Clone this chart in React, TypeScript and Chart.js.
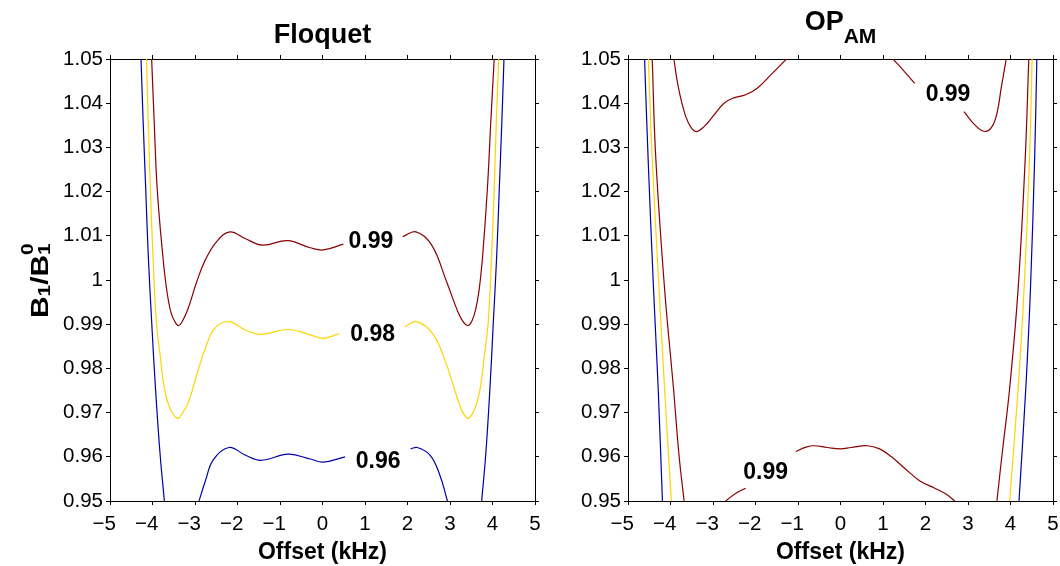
import React, { useEffect, useRef } from "react";
import { Chart, registerables } from "chart.js";

Chart.register(...registerables);

const FONT = "'Liberation Sans', Arial, Helvetica, sans-serif";

// ---------- axes ----------
const xTickValues = [-5, -4, -3, -2, -1, 0, 1, 2, 3, 4, 5];
const xTickLabels = ["−5", "−4", "−3", "−2", "−1", "0", "1", "2", "3", "4", "5"];
const yTickValues = [0.95, 0.96, 0.97, 0.98, 0.99, 1.0, 1.01, 1.02, 1.03, 1.04, 1.05];
const yTickLabels = ["0.95", "0.96", "0.97", "0.98", "0.99", "1", "1.01", "1.02", "1.03", "1.04", "1.05"];
const xAxisTitle = "Offset (kHz)";

// ---------- Floquet panel: contour pieces [offset kHz, B1/B1^0] ----------
const floquetRed099A = [
  [-4.02, 1.05], [-3.96, 1.0358], [-3.89, 1.0207], [-3.76, 1.0057], [-3.67, 0.9981],
  [-3.57, 0.9928], [-3.47, 0.9905], [-3.39, 0.9897], [-3.30, 0.9906], [-3.16, 0.9936],
  [-2.96, 0.9996], [-2.76, 1.0045], [-2.49, 1.0087], [-2.18, 1.0109], [-1.82, 1.0094],
  [-1.42, 1.0079], [-0.82, 1.0089], [-0.29, 1.0073], [0.02, 1.0068], [0.49, 1.0081],
];
const floquetRed099B = [
  [1.89, 1.0098], [2.2, 1.0109], [2.57, 1.0079], [2.92, 0.9996], [3.2, 0.9925],
  [3.33, 0.9903], [3.42, 0.9897], [3.51, 0.9906], [3.61, 0.9936], [3.69, 0.9981],
  [3.77, 1.0057], [3.88, 1.0207], [3.96, 1.0358], [4.04, 1.05],
];
const floquetYellow098A = [
  [-4.14, 1.05], [-4.1, 1.0358], [-4.05, 1.0207], [-3.99, 1.0057], [-3.91, 0.9906],
  [-3.82, 0.983], [-3.72, 0.9755], [-3.59, 0.971], [-3.41, 0.9687], [-3.3, 0.9698],
  [-3.16, 0.9722], [-2.96, 0.9785], [-2.76, 0.9845], [-2.53, 0.9891], [-2.2, 0.9906],
  [-1.82, 0.9887], [-1.45, 0.9877], [-0.8, 0.9888], [-0.29, 0.9876], [0.02, 0.9868],
  [0.395, 0.9879],
];
const floquetYellow098B = [
  [1.94, 0.9894], [2.22, 0.9906], [2.61, 0.9876], [2.92, 0.9808], [3.2, 0.9725],
  [3.32, 0.9697], [3.43, 0.9687], [3.58, 0.9708], [3.71, 0.9755], [3.81, 0.983],
  [3.9, 0.9906], [3.98, 1.0057], [4.04, 1.0207], [4.09, 1.0358], [4.145, 1.05],
];
const floquetBlue096Outer1 = [
  [-4.27, 1.05], [-4.22, 1.0358], [-4.16, 1.0207], [-4.1, 1.0057], [-4.02, 0.9906],
  [-3.93, 0.9755], [-3.82, 0.9604], [-3.72, 0.95],
];
const floquetBlue096Outer2 = [
  [3.745, 0.95], [3.84, 0.9604], [3.94, 0.9755], [4.02, 0.9906], [4.1, 1.0057],
  [4.16, 1.0207], [4.22, 1.0358], [4.27, 1.05],
];
const floquetBlue096A = [
  [-2.906, 0.95], [-2.76, 0.9544], [-2.57, 0.9593], [-2.2, 0.9621], [-1.82, 0.9604],
  [-1.45, 0.9592], [-0.8, 0.9606], [-0.29, 0.9595], [0.02, 0.9588], [0.53, 0.96],
];
const floquetBlue096B = [
  [2.075, 0.9618], [2.23, 0.9621], [2.53, 0.9604], [2.76, 0.9559], [2.94, 0.95],
];
const floquetLabelText = ["0.99", "0.98", "0.96"];
const floquetLabelX = [1.14, 1.18, 1.31];
const floquetLabelY = [1.0087, 0.9877, 0.9588];

// ---------- OP_AM panel ----------
const opBlueLeft = [[-4.61, 1.05], [-4.53, 1.0283], [-4.4, 0.9981], [-4.29, 0.9755], [-4.19, 0.95]];
const opYellowLeft = [[-4.52, 1.05], [-4.435, 1.0283], [-4.27, 0.9981], [-4.14, 0.9755], [-3.98, 0.95]];
const opRedLeft = [[-4.43, 1.05], [-4.35, 1.0283], [-4.14, 0.9981], [-3.93, 0.9755], [-3.8, 0.9604], [-3.68, 0.95]];
const opRedRight = [[3.68, 0.95], [3.8, 0.9604], [3.98, 0.9755], [4.18, 0.9981], [4.35, 1.0283], [4.43, 1.05]];
const opYellowRight = [[3.98, 0.95], [4.18, 0.9755], [4.32, 0.9981], [4.45, 1.0283], [4.51, 1.05]];
const opBlueRight = [[4.2, 0.95], [4.36, 0.9755], [4.47, 0.9981], [4.57, 1.0283], [4.62, 1.05]];
const opRedTopA = [
  [-3.92, 1.05], [-3.84, 1.0449], [-3.72, 1.0396], [-3.59, 1.0358], [-3.41, 1.0336],
  [-3.21, 1.0347], [-2.98, 1.0373], [-2.74, 1.04], [-2.51, 1.0412], [-2.23, 1.0419],
  [-1.96, 1.0434], [-1.64, 1.0464], [-1.27, 1.05],
];
const opRedTopB = [[1.235, 1.05], [1.51, 1.0471], [1.745, 1.0445]];
const opRedTopC = [
  [2.905, 1.0381], [3.16, 1.0351], [3.39, 1.0336], [3.565, 1.0347], [3.69, 1.0381],
  [3.78, 1.0434], [3.9, 1.05],
];
const opRedBottomA = [[-2.7, 0.95], [-2.47, 0.9517], [-2.23, 0.9529]];
const opRedBottomB = [
  [-1.05, 0.9612], [-0.81, 0.9622], [-0.62, 0.9625], [-0.31, 0.9621], [0.0, 0.9618],
  [0.25, 0.9621], [0.63, 0.9625], [0.92, 0.9618], [1.2, 0.96], [1.51, 0.9574],
  [1.86, 0.9546], [2.22, 0.9529], [2.49, 0.9515], [2.69, 0.95],
];
const opLabelText = ["0.99", "0.99"];
const opLabelX = [2.53, -1.76];
const opLabelY = [1.0419, 0.9563];

// ---------- styles ----------
const RED = "#8B0000";
const YELLOW = "#FFD400";
const BLUE = "#0000A8";

type Piece = { pts: number[][]; color: string };
type TitlePart = { text: string; size: number; baseline: number };
type PanelCfg = {
  width: number;
  height: number;
  area: { left: number; right: number; top: number; bottom: number };
  pieces: Piece[];
  labelText: string[];
  labelX: number[];
  labelY: number[];
  title: TitlePart[];
  yLabel: boolean;
};

const floquetCfg: PanelCfg = {
  width: 540,
  height: 566,
  area: { left: 110, right: 535, top: 59, bottom: 501 },
  pieces: [
    { pts: floquetBlue096Outer1, color: BLUE },
    { pts: floquetBlue096Outer2, color: BLUE },
    { pts: floquetBlue096A, color: BLUE },
    { pts: floquetBlue096B, color: BLUE },
    { pts: floquetYellow098A, color: YELLOW },
    { pts: floquetYellow098B, color: YELLOW },
    { pts: floquetRed099A, color: RED },
    { pts: floquetRed099B, color: RED },
  ],
  labelText: floquetLabelText,
  labelX: floquetLabelX,
  labelY: floquetLabelY,
  title: [{ text: "Floquet", size: 27, baseline: 43.3 }],
  yLabel: true,
};

const opCfg: PanelCfg = {
  width: 520,
  height: 566,
  area: { left: 88, right: 513, top: 59, bottom: 501 },
  pieces: [
    { pts: opBlueLeft, color: BLUE },
    { pts: opBlueRight, color: BLUE },
    { pts: opYellowLeft, color: YELLOW },
    { pts: opYellowRight, color: YELLOW },
    { pts: opRedLeft, color: RED },
    { pts: opRedRight, color: RED },
    { pts: opRedTopA, color: RED },
    { pts: opRedTopB, color: RED },
    { pts: opRedTopC, color: RED },
    { pts: opRedBottomA, color: RED },
    { pts: opRedBottomB, color: RED },
  ],
  labelText: opLabelText,
  labelX: opLabelX,
  labelY: opLabelY,
  title: [
    { text: "OP", size: 27, baseline: 29.5 },
    { text: "AM", size: 21, baseline: 42.7 },
  ],
  yLabel: false,
};

function fmtX(i: number) {
  const s = xTickLabels[i] ?? "";
  // keep the digit centred on its tick (minus sign hangs to the left)
  return s.startsWith("−") ? s + "\u00A0\u00A0" : s;
}

function makeChart(canvas: HTMLCanvasElement, cfg: PanelCfg) {
  const { width, height, area } = cfg;
  const tickFont = { family: FONT, size: 20.5 };
  const grid = { display: true, drawOnChartArea: false, drawTicks: true, tickLength: 4, color: "#000", lineWidth: 1 };
  const border = { display: true, color: "#000", width: 1 };
  const setX = (s: any) => { s.ticks = xTickValues.map((v) => ({ value: v })); };
  const setY = (s: any) => { s.ticks = yTickValues.map((v) => ({ value: v })); };
  const noPad = (s: any) => { s.paddingLeft = 0; s.paddingRight = 0; s.paddingTop = 0; s.paddingBottom = 0; };

  const overlay = {
    id: "overlay",
    afterDraw(chart: any) {
      const ctx: CanvasRenderingContext2D = chart.ctx;
      const xs = chart.scales.x;
      const ys = chart.scales.y;
      const ca = chart.chartArea;
      ctx.save();
      ctx.fillStyle = "#000";
      // contour labels
      ctx.font = `bold 23px ${FONT}`;
      ctx.textAlign = "center";
      ctx.textBaseline = "middle";
      cfg.labelText.forEach((t, i) => {
        ctx.fillText(t, xs.getPixelForValue(cfg.labelX[i]), ys.getPixelForValue(cfg.labelY[i]));
      });
      // title
      ctx.textAlign = "left";
      ctx.textBaseline = "alphabetic";
      let total = 0;
      const widths = cfg.title.map((p) => {
        ctx.font = `bold ${p.size}px ${FONT}`;
        const w = ctx.measureText(p.text).width;
        total += w;
        return w;
      });
      let x = (ca.left + ca.right) / 2 - total / 2;
      cfg.title.forEach((p, i) => {
        ctx.font = `bold ${p.size}px ${FONT}`;
        ctx.fillText(p.text, x, p.baseline);
        x += widths[i];
      });
      // y axis label B1/B1^0
      if (cfg.yLabel) {
        const k = 1.3;
        ctx.translate(48, (ca.top + ca.bottom) / 2 + 38);
        ctx.rotate(-Math.PI / 2);
        ctx.scale(k, 1);
        let u = 0;
        const big = `bold 23px ${FONT}`;
        const small = `bold 16px ${FONT}`;
        const put = (t: string, f: string, dv: number, advance: boolean) => {
          ctx.font = f;
          ctx.fillText(t, u, dv);
          const w = ctx.measureText(t).width;
          if (advance) u += w;
          return w;
        };
        put("B", big, 0, true);
        put("1", small, 2, true);
        put("/", big, 0, true);
        put("B", big, 0, true);
        put("0", small, -15, false);
        put("1", small, 2, true);
      }
      ctx.restore();
    },
  };

  return new Chart(canvas, {
    type: "scatter",
    data: {
      datasets: cfg.pieces.map((p) => ({
        data: p.pts.map(([x, y]) => ({ x, y })),
        showLine: true,
        borderColor: p.color,
        backgroundColor: p.color,
        borderWidth: 1.2,
        pointRadius: 0,
        pointHoverRadius: 0,
        fill: false,
        tension: 0.4,
        clip: 0,
        xAxisID: "x",
        yAxisID: "y",
      })),
    },
    options: {
      responsive: false,
      animation: false,
      devicePixelRatio: 1,
      events: [],
      layout: { padding: 0 },
      plugins: { legend: { display: false }, tooltip: { enabled: false }, title: { display: false } },
      scales: {
        x: {
          type: "linear",
          position: "bottom",
          min: -5,
          max: 5,
          afterBuildTicks: setX,
          afterFit: (s: any) => { s.height = height - area.bottom; noPad(s); },
          ticks: {
            autoSkip: false, maxRotation: 0, minRotation: 0, padding: 7, color: "#000", font: tickFont,
            callback: (_v: any, i: number) => fmtX(i),
          },
          grid,
          border,
          title: {
            display: true, text: xAxisTitle, color: "#000",
            font: { family: FONT, size: 23, weight: "bold" }, padding: { top: 0, bottom: 0 },
          },
        },
        x2: {
          type: "linear",
          position: "top",
          min: -5,
          max: 5,
          afterBuildTicks: setX,
          afterFit: (s: any) => { s.height = area.top; noPad(s); },
          ticks: { display: false, autoSkip: false },
          grid,
          border,
        },
        y: {
          type: "linear",
          position: "left",
          min: 0.95,
          max: 1.05,
          afterBuildTicks: setY,
          afterFit: (s: any) => { s.width = area.left; noPad(s); },
          ticks: {
            autoSkip: false, padding: 3, color: "#000", font: tickFont,
            callback: (_v: any, i: number) => yTickLabels[i],
          },
          grid,
          border,
        },
        y2: {
          type: "linear",
          position: "right",
          min: 0.95,
          max: 1.05,
          afterBuildTicks: setY,
          afterFit: (s: any) => { s.width = width - area.right; noPad(s); },
          ticks: { display: false, autoSkip: false },
          grid,
          border,
        },
      },
    } as any,
    plugins: [overlay],
  });
}

function Panel({ cfg, left }: { cfg: PanelCfg; left: number }) {
  const ref = useRef<HTMLCanvasElement | null>(null);
  useEffect(() => {
    if (!ref.current) return;
    const chart = makeChart(ref.current, cfg);
    return () => chart.destroy();
  }, [cfg]);
  return (
    <canvas
      ref={ref}
      width={cfg.width}
      height={cfg.height}
      style={{ position: "absolute", left, top: 0, width: cfg.width, height: cfg.height }}
    />
  );
}

export default function App() {
  return (
    <div style={{ position: "absolute", left: 0, top: 0, width: 1060, height: 566, background: "#fff", overflow: "hidden" }}>
      <Panel cfg={floquetCfg} left={0} />
      <Panel cfg={opCfg} left={540} />
    </div>
  );
}
